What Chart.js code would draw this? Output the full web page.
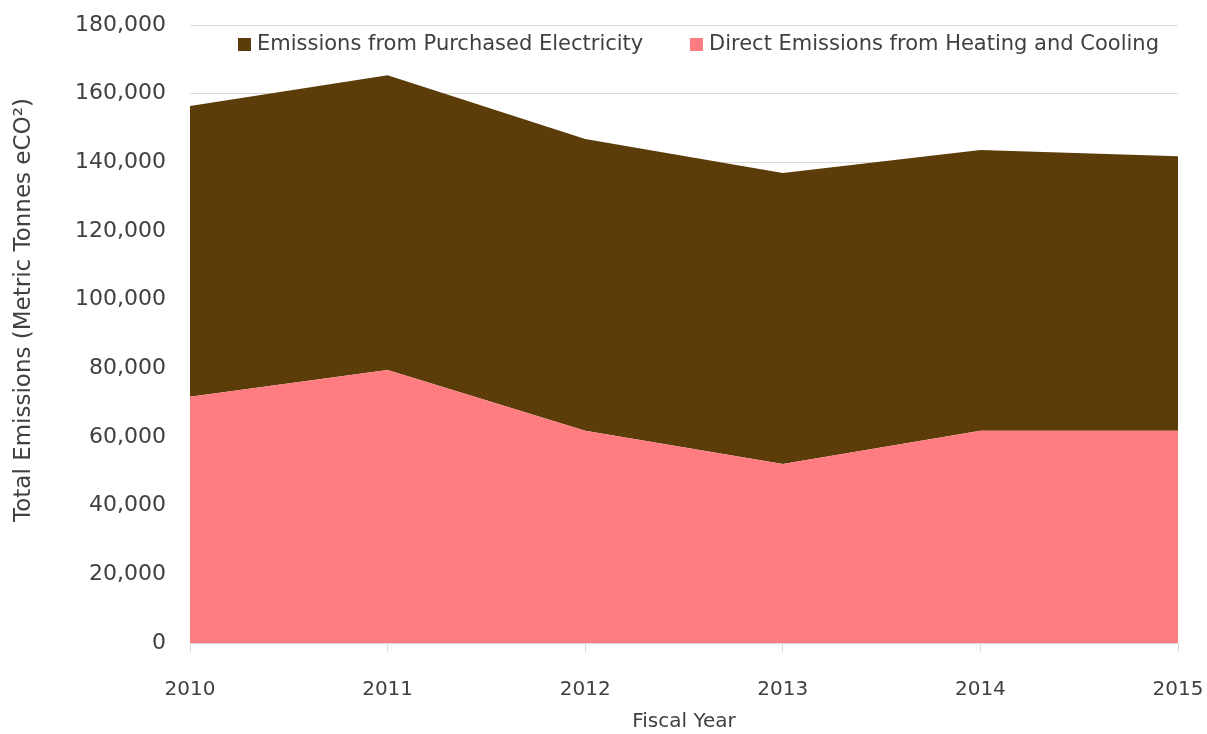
<!DOCTYPE html>
<html>
<head>
<meta charset="utf-8">
<script src="https://cdn.jsdelivr.net/npm/chart.js@4"></script>
<style>
html,body{margin:0;padding:0;background:#fff;}
#wrap{width:1207px;height:734px;position:relative;}
</style>
</head>
<body>
<div id="wrap"><canvas id="c" width="1207" height="734"></canvas></div>
<script>
const years = ['2010','2011','2012','2013','2014','2015'];
const directHeatingCooling = [71700, 79500, 61800, 52100, 61800, 61800];
const purchasedElectricity = [84700, 85900, 85000, 84800, 81800, 80000];
const yTicks = [0,20000,40000,60000,80000,100000,120000,140000,160000,180000];
const yTitle = 'Total Emissions (Metric Tonnes eCO²)';

const FONT = '"DejaVu Sans", "Noto Sans", sans-serif';
const TXT = '#404040';

const extrasPlugin = {
  id: 'extras',
  afterDraw(chart) {
    const ctx = chart.ctx;
    const items = [
      {ds: chart.data.datasets[1], x: 238},
      {ds: chart.data.datasets[0], x: 690}
    ];
    ctx.save();
    ctx.font = '21px ' + FONT;
    ctx.textBaseline = 'middle';
    items.forEach(it => {
      ctx.fillStyle = it.ds.backgroundColor;
      ctx.fillRect(it.x, 38, 13, 13);
      ctx.fillStyle = TXT;
      ctx.fillText(it.ds.label, it.x + 19, 45);
    });
    ctx.translate(24, 310);
    ctx.rotate(-Math.PI / 2);
    ctx.textAlign = 'center';
    ctx.font = '23px ' + FONT;
    ctx.fillText(yTitle, 0, 0);
    ctx.restore();
  }
};

new Chart(document.getElementById('c'), {
  type: 'line',
  data: {
    labels: years,
    datasets: [
      {label: 'Direct Emissions from Heating and Cooling', data: directHeatingCooling,
       backgroundColor: '#FF7C80', borderColor: '#FF7C80', borderWidth: 0, fill: 'origin', pointRadius: 0, tension: 0},
      {label: 'Emissions from Purchased Electricity', data: purchasedElectricity,
       backgroundColor: '#5C3D0A', borderColor: '#5C3D0A', borderWidth: 0, fill: '-1', pointRadius: 0, tension: 0}
    ]
  },
  options: {
    responsive: false,
    animation: false,
    layout: {padding: {left: 0, right: 29, top: 25, bottom: 0}},
    plugins: {legend: {display: false}, tooltip: {enabled: false}},
    elements: {line: {borderWidth: 0}},
    scales: {
      x: {
        offset: false,
        grid: {display: true, drawOnChartArea: false, drawTicks: true, tickLength: 9, color: '#d9d9d9'},
        border: {display: false},
        ticks: {color: TXT, font: {family: FONT, size: 20}, padding: 26, maxRotation: 0},
        title: {display: true, text: 'Fiscal Year', color: TXT, font: {family: FONT, size: 20}, padding: {top: 0, bottom: 0}},
        afterFit(s) { s.height = 91; s.paddingLeft = 0; s.paddingRight = 0; }
      },
      y: {
        stacked: true,
        min: 0, max: 180000,
        afterBuildTicks(s) { s.ticks = yTicks.map(v => ({value: v})); },
        grid: {color: '#d9d9d9', drawTicks: false},
        border: {display: false},
        ticks: {color: TXT, font: {family: FONT, size: 22}, padding: 24,
          callback: v => v.toLocaleString('en-US')},
        title: {display: false},
        afterFit(s) { s.width = 190; s.paddingTop = 0; s.paddingBottom = 0; }
      }
    }
  },
  plugins: [extrasPlugin]
});
</script>
</body>
</html>
